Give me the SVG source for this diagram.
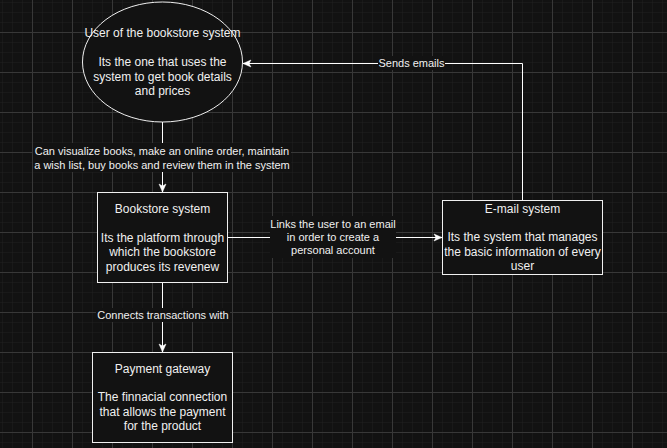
<svg xmlns="http://www.w3.org/2000/svg" width="667" height="448" viewBox="0 0 667 448">
  <style>
    .node { fill: #121212; stroke: #f0f0f0; stroke-width: 1; }
    .nt { font-family: "Liberation Sans", Arial, sans-serif; font-size: 12px; fill: #f0f0f0; text-anchor: middle; }
    .et { font-family: "Liberation Sans", Arial, sans-serif; font-size: 11px; fill: #f0f0f0; text-anchor: middle; }
    .edge { fill: none; stroke: #ffffff; stroke-width: 1; }
    .lbg { fill: #121212; }
  </style>
  <defs>
    <pattern id="minor" x="2" y="2" width="10" height="10" patternUnits="userSpaceOnUse">
      <path d="M0,0 H10 M0,0 V10" stroke="#1f1f1f" stroke-width="1" fill="none"/>
    </pattern>
    <pattern id="major" x="32" y="32" width="40" height="40" patternUnits="userSpaceOnUse">
      <path d="M0,0.5 H40 M0.5,0 V40" stroke="#383838" stroke-width="1" fill="none"/>
    </pattern>
    <marker id="arrow" markerUnits="userSpaceOnUse" markerWidth="10" markerHeight="10" viewBox="0 0 10 10" refX="9" refY="5" orient="auto">
      <path d="M1,1.5 L9,5 L1,8.5 L3,5 Z" fill="#ffffff" stroke="#ffffff" stroke-width="0.5"/>
    </marker>
  </defs>
  <rect x="0" y="0" width="667" height="448" fill="#121212"/>
  <rect x="0" y="0" width="667" height="448" fill="url(#minor)"/>
  <rect x="0" y="0" width="667" height="448" fill="url(#major)"/>

  <g id="connectors">
    <g id="e-user-bookstore">
      <path class="edge" d="M162.5,122 V192" marker-end="url(#arrow)"/>
      <rect class="lbg" x="33" y="143" width="258" height="29"/>
      <text class="et" x="162" y="155">Can visualize books, make an online order, maintain</text>
      <text class="et" x="162" y="169">a wish list, buy books and review them in the system</text>
    </g>
    <g id="e-bookstore-email">
      <path class="edge" d="M227,237.5 H442" marker-end="url(#arrow)"/>
      <rect class="lbg" x="270" y="216" width="126" height="42"/>
      <text class="et" x="333" y="228">Links the user to an email</text>
      <text class="et" x="333" y="241">in order to create a</text>
      <text class="et" x="333" y="254">personal account</text>
    </g>
    <g id="e-email-user">
      <path class="edge" d="M522.5,200 V63.5 H243" marker-end="url(#arrow)"/>
      <rect class="lbg" x="378" y="56" width="67" height="14"/>
      <text class="et" x="411.5" y="67">Sends emails</text>
    </g>
    <g id="e-bookstore-payment">
      <path class="edge" d="M162.5,283 V352" marker-end="url(#arrow)"/>
      <rect class="lbg" x="96" y="308" width="134" height="14"/>
      <text class="et" x="163" y="319">Connects transactions with</text>
    </g>
  </g>

  <g id="user">
    <ellipse class="node" cx="162.5" cy="62" rx="80" ry="60"/>
    <text class="nt" x="162.5" y="37">User of the bookstore system</text>
    <text class="nt" x="162.5" y="66">Its the one that uses the</text>
    <text class="nt" x="162.5" y="80.5">system to get book details</text>
    <text class="nt" x="162.5" y="95">and prices</text>
  </g>

  <g id="bookstore">
    <rect class="node" x="97.5" y="192.5" width="130" height="90"/>
    <text class="nt" x="162.5" y="213">Bookstore system</text>
    <text class="nt" x="162.5" y="241.5">Its the platform through</text>
    <text class="nt" x="162.5" y="256">which the bookstore</text>
    <text class="nt" x="162.5" y="270.5">produces its revenew</text>
  </g>

  <g id="email">
    <rect class="node" x="442.5" y="200.5" width="160" height="74"/>
    <text class="nt" x="522.5" y="212.5">E-mail system</text>
    <text class="nt" x="522.5" y="241">Its the system that manages</text>
    <text class="nt" x="522.5" y="255.5">the basic information of every</text>
    <text class="nt" x="522.5" y="270">user</text>
  </g>

  <g id="payment">
    <rect class="node" x="92.5" y="352.5" width="140" height="90"/>
    <text class="nt" x="162.5" y="373">Payment gateway</text>
    <text class="nt" x="162.5" y="401">The finnacial connection</text>
    <text class="nt" x="162.5" y="415.5">that allows the payment</text>
    <text class="nt" x="162.5" y="430">for the product</text>
  </g>
</svg>
